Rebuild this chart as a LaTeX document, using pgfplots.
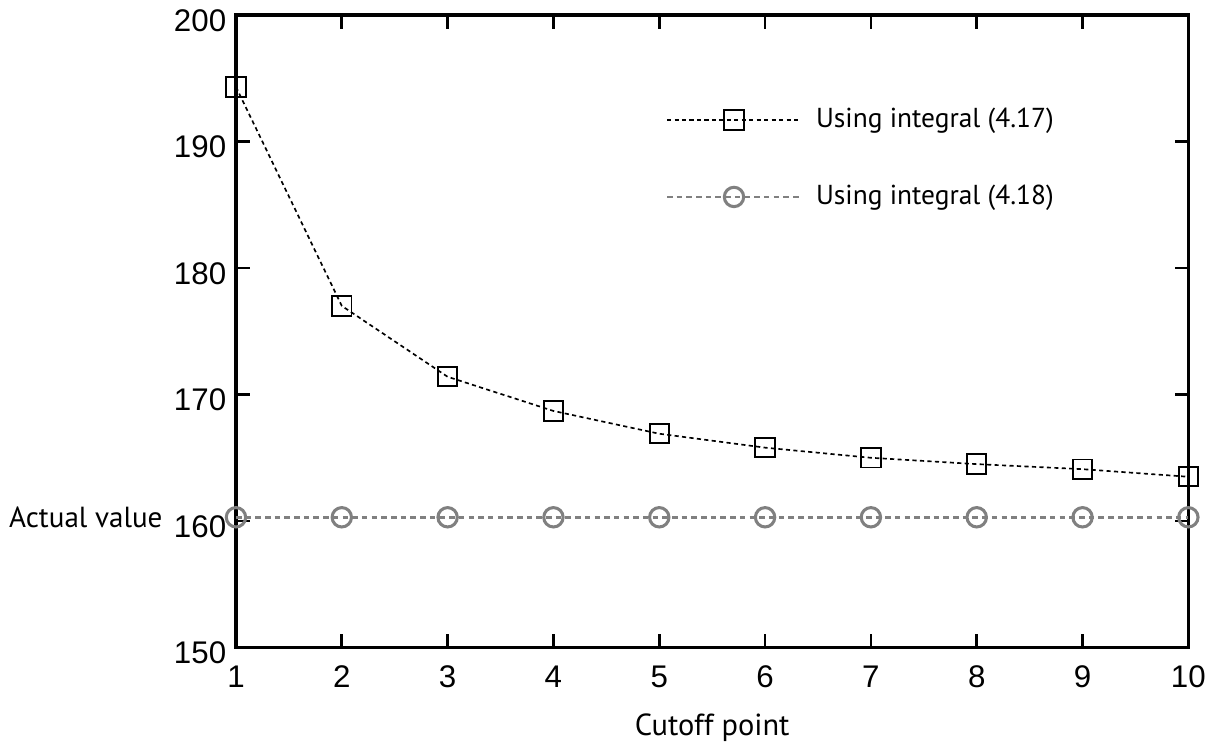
\documentclass[border=0pt]{standalone}
\usepackage{pgfplots}
\pgfplotsset{compat=1.18}
\usepackage{fontspec}
\setmainfont{Liberation Sans}
\newfontfamily\myriad{PT Sans}
\begin{document}
\begin{tikzpicture}
\begin{axis}[
    width=344pt, height=228.6pt,
    scale only axis,
    xmin=1, xmax=10, ymin=150, ymax=200,
    xtick={1,...,10}, ytick={150,160,...,200},
    tick align=inside,
    major tick length=5pt,
    axis line style={line width=1.3pt},
    tick style={line width=1pt, black},
    tick label style={font=\fontsize{11.3}{13}\selectfont},
    xticklabel style={yshift=-3pt},
    yticklabel style={yshift=-2pt},
    /pgf/number format/assume math mode=true,
    xlabel={\myriad\fontsize{11}{13}\selectfont Cutoff point},
    xlabel style={yshift=-2.5pt},
    legend style={draw=none, fill=none, at={(0.442,0.871)}, anchor=north west,
        font=\myriad\fontsize{9.9}{12}\selectfont, row sep=15.3pt},
    legend cell align=left,
    legend image code/.code={\draw[#1, mark repeat=2, mark phase=2]
        plot coordinates {(0cm,0cm) (0.85cm,0cm) (1.7cm,0cm)};},
    clip=false,
]
\addplot[black, line width=0.6pt, dash pattern=on 1.5pt off 1.2pt,
    mark=square, mark size=3.5pt, mark options={solid, line width=0.7pt}]
coordinates {
    (1,194.3)(2,177.0)(3,171.4)(4,168.7)(5,166.9)(6,165.8)(7,165.0)(8,164.5)(9,164.1)(10,163.5)
};
\addlegendentry{\hspace{3pt}Using integral (4.17)}
\addplot[gray, line width=0.9pt, dash pattern=on 2pt off 1.5pt,
    mark=o, mark size=3.5pt, mark options={solid, line width=1.1pt}]
coordinates {
    (1,160.3)(2,160.3)(3,160.3)(4,160.3)(5,160.3)(6,160.3)(7,160.3)(8,160.3)(9,160.3)(10,160.3)
};
\addlegendentry{\hspace{3pt}Using integral (4.18)}
\node[anchor=east, font=\myriad\fontsize{10.5}{12}\selectfont]
    at (axis cs:1,160.3) [xshift=-23pt] {Actual value};
\end{axis}
\path (current axis.south) ++(0,-33pt);
\end{tikzpicture}
\end{document}
